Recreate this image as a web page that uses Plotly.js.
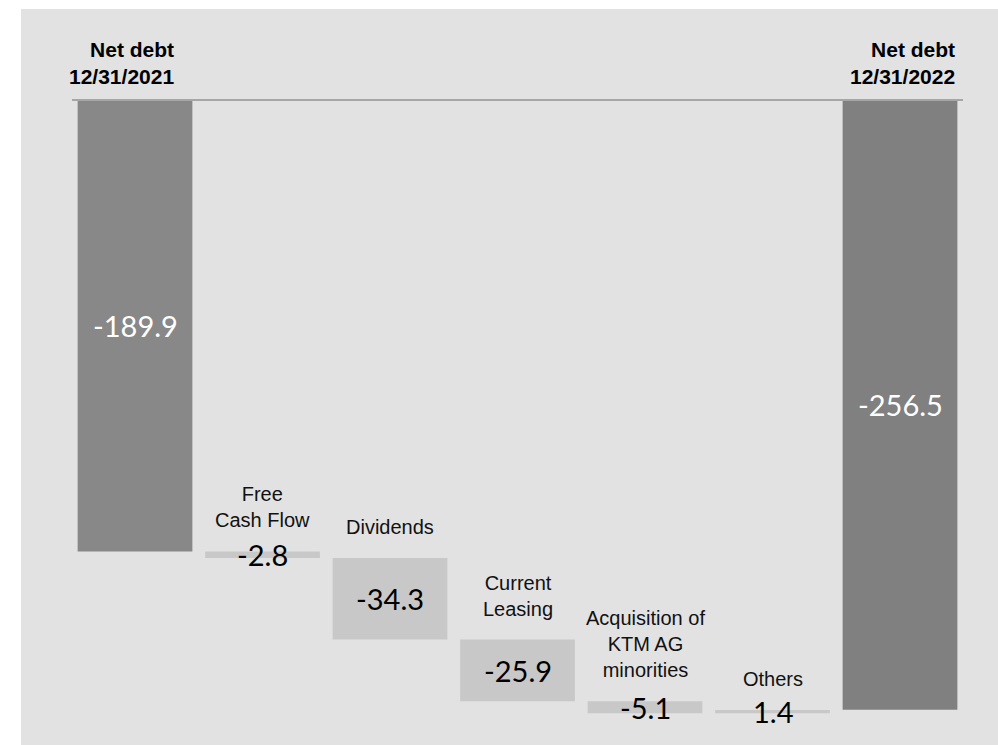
<!DOCTYPE html>
<html>
<head>
<meta charset="utf-8">
<script src="https://cdn.plot.ly/plotly-3.0.1.min.js"></script>
<style>html,body{margin:0;padding:0;background:#fff;}#chart{width:998px;height:745px;}</style>
</head>
<body>
<div id="chart"></div>
<script>
// ---- data ----
const categories = ["Net debt<br>12/31/2021", "Free<br>Cash Flow", "Dividends", "Current<br>Leasing", "Acquisition of<br>KTM AG<br>minorities", "Others", "Net debt<br>12/31/2022"];
const values = [-189.9, -2.8, -34.3, -25.9, -5.1, 1.4, -256.5];
const measures = ["total", "relative", "relative", "relative", "relative", "relative", "total"];
const valueLabels = ["-189.9", "-2.8", "-34.3", "-25.9", "-5.1", "1.4", "-256.5"];

// ---- build bars (floating) ----
const xs = [], ys = [], bases = [], colors = [];
let running = 0;
values.forEach((v, i) => {
  xs.push(i);
  if (measures[i] === "total") {
    bases.push(0); ys.push(v); running = v;
    colors.push(i === 0 ? "#888888" : "#808080");
  } else {
    bases.push(running); ys.push(v); running += v;
    colors.push("#c8c8c8");
  }
});

const trace = {
  type: "bar", x: xs, y: ys, base: bases, width: 0.9,
  marker: {color: colors, line: {width: 0}},
  hoverinfo: "skip", showlegend: false
};

const annotations = [];
values.forEach((v, i) => {
  const b = bases[i];
  const mid = b + v / 2;
  const isTotal = measures[i] === "total";
  annotations.push({
    x: i, y: mid, xref: "x", yref: "y", text: valueLabels[i], showarrow: false,
    xanchor: "center", yanchor: "middle",
    font: {family: "Lato, 'Open Sans', sans-serif", size: 29, color: isTotal ? "#ffffff" : "#000000"}
  });
  if (isTotal) {
    annotations.push({
      x: i + 0.45, y: 0, xref: "x", yref: "y", text: "<b>" + categories[i] + "</b>", showarrow: false,
      xanchor: "right", yanchor: "middle", align: "right", yshift: 37, xshift: i === 0 ? -16 : 0,
      font: {family: "'Liberation Sans', Arial, sans-serif", size: 21, color: "#000000"}
    });
  } else {
    const top = Math.max(b, b + v);
    annotations.push({
      x: i, y: top, xref: "x", yref: "y", text: categories[i], showarrow: false,
      xanchor: "center", yanchor: "bottom", align: "center", yshift: 18,
      font: {family: "'Liberation Sans', Arial, sans-serif", size: 20, color: "#111111"}
    });
  }
});

const pitch = 127.5, pxPerUnit = 2.377;
const plotL = 21, plotT = 9, W = 998, H = 745;
const xMin = -(135 - plotL) / pitch;
const xMax = 6 + (W - 900) / pitch;
const yMax = (100 - plotT) / pxPerUnit;
const yMin = -(H - 100) / pxPerUnit;

const layout = {
  width: W, height: H,
  margin: {l: plotL, r: 0, t: plotT, b: 0, pad: 0},
  paper_bgcolor: "#ffffff", plot_bgcolor: "#e2e2e2",
  xaxis: {range: [xMin, xMax], visible: false, showgrid: false, zeroline: false, fixedrange: true},
  yaxis: {range: [yMin, yMax], visible: false, showgrid: false, zeroline: false, fixedrange: true},
  bargap: 0.1,
  shapes: [{type: "line", xref: "x", yref: "y", x0: -0.494, x1: 6.494, y0: 0, y1: 0,
            line: {color: "#a6a6a6", width: 2}, layer: "above"}],
  annotations: annotations
};

Plotly.newPlot("chart", [trace], layout, {displayModeBar: false, staticPlot: true});
</script>
</body>
</html>
